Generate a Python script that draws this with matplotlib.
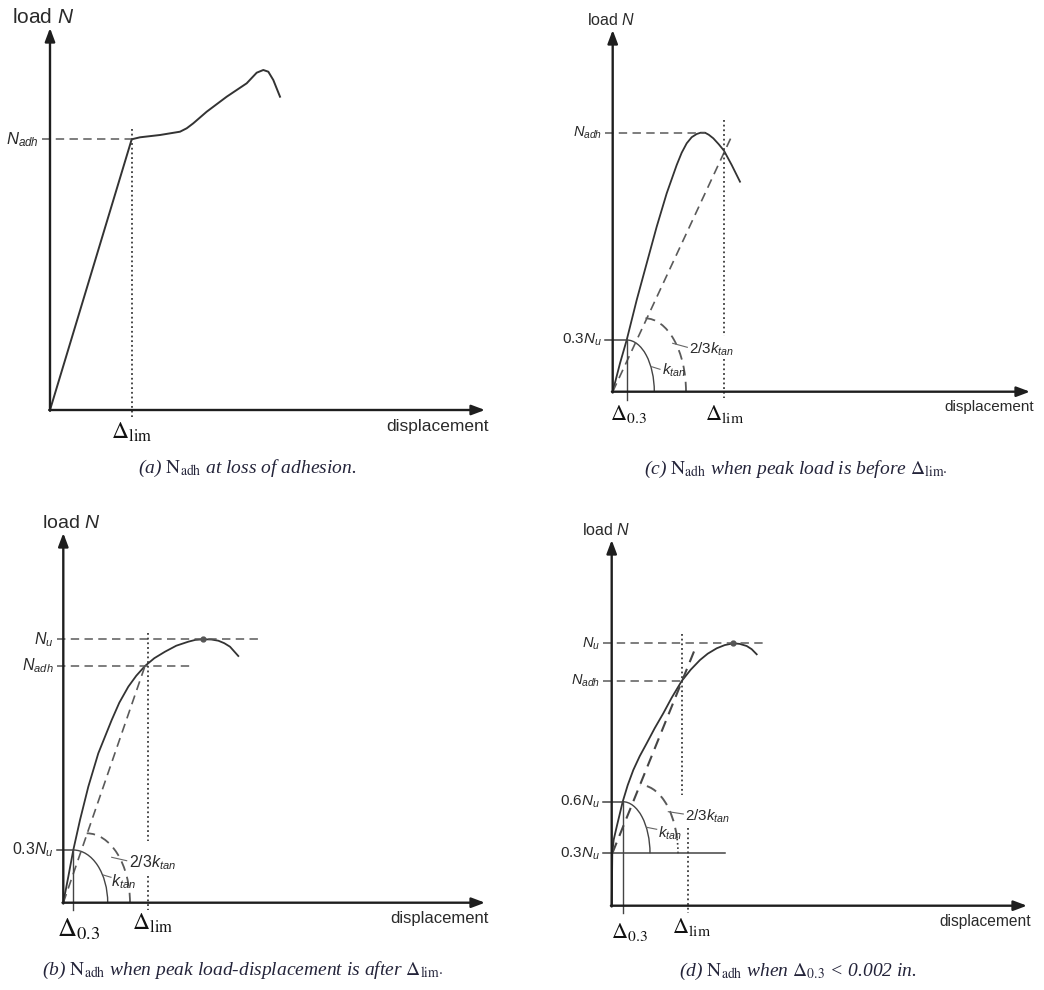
import matplotlib
matplotlib.use("Agg")
import matplotlib.pyplot as plt
from matplotlib.patches import Arc

plt.rcParams['font.family'] = 'Liberation Sans'
plt.rcParams['mathtext.fontset'] = 'custom'
plt.rcParams['mathtext.rm'] = 'Liberation Sans'
plt.rcParams['mathtext.it'] = 'Liberation Sans:italic'
plt.rcParams['mathtext.bf'] = 'Liberation Sans:bold'

W, H = 1044, 990

# --- (a) N_adh at loss of adhesion (units: displacement / load)
a_disp = [0, 81.7, 90, 110, 130, 136.7, 143.3, 156.7, 176.7, 196.7, 206.7, 213.3, 218.3, 223.3, 230]
a_load = [0, 270.7, 272.7, 275, 278.3, 281.7, 286.7, 298.3, 313.3, 326.7, 337.3, 340, 338.3, 330, 313.3]
a_nadh = 270.7
a_dlim = 81.7

# --- (b) peak load-displacement after delta_lim
b_disp = [0, 5, 10, 16.7, 25, 35, 48.4, 56, 65, 73, 81.7, 91, 101.7, 113, 125, 132, 140, 148, 155, 161, 166.7, 175]
b_load = [0, 26, 52.7, 82.7, 116, 149.4, 182.7, 200, 216, 227, 236.7, 244.5, 251, 257, 261, 262.8, 263.4, 263.2, 262, 259.5, 256, 246.7]
b_nu, b_nadh, b_n03 = 263.4, 236.7, 52.7
b_d03, b_dlim = 10, 84.4
b_peak = (140, 263.4)

# --- (c) peak load before delta_lim
c_disp = [0, 7.3, 14, 24, 34, 44, 54, 64, 69, 74, 79, 84, 88, 92.3, 96, 100.6, 106, 111.3, 119, 127.3]
c_load = [0, 28.4, 51.7, 91.7, 128.4, 165, 198.4, 226.7, 239, 248.4, 254.5, 257.7, 259, 259, 257, 253.4, 247.5, 241, 226.7, 210]
c_nadh, c_n03 = 259, 51.7
c_d03, c_dlim = 14, 111.3
c_secant_end = (120, 257.7)

# --- (d) delta_0.3 < 0.002 in.
d_disp = [0, 0.6, 2, 5, 11, 16, 21.6, 28, 35, 43, 51.6, 60, 70, 79, 88.3, 96, 105, 113, 121.6, 128, 135, 140, 145]
d_load = [0, 52.4, 66, 79, 104, 120.5, 135.7, 149.5, 162.4, 177.5, 192.4, 208, 224.7, 236, 245.7, 252, 257.4, 260.6, 262.4, 261.8, 259.7, 256.5, 251.4]
d_nu, d_nadh, d_n06, d_n03 = 262.4, 224.7, 104, 52.4
d_d03, d_dlim_top, d_dlim_low = 11, 70.6, 76
d_secant = ([0.6, 82.6], [52.4, 255])
d_peak = (121.6, 262.4)

captions = [
    r"(a) $\mathrm{N}_{\mathrm{adh}}$ at loss of adhesion.",
    r"(b) $\mathrm{N}_{\mathrm{adh}}$ when peak load-displacement is after $\Delta_{\mathrm{lim}{\cdot}}$",
    r"(c) $\mathrm{N}_{\mathrm{adh}}$ when peak load is before $\Delta_{\mathrm{lim}{\cdot}}$",
    r"(d) $\mathrm{N}_{\mathrm{adh}}$ when $\Delta_{\mathit{0.3}}$ < 0.002 in.",
]

AX_C = '#1e1e1e'
CURVE_C = '#333333'
DASH_C = '#5a5a5a'
DOT_C = '#3a3a3a'
TXT_C = '#2a2a2a'
CAP_C = '#24243a'
DASH = (0, (5.5, 3.5))
DOT = (0, (1.0, 1.6))

fig = plt.figure(figsize=(W / 100, H / 100), dpi=100)
fig.patch.set_facecolor('white')


def panel(box, origin):
    x0, y0, w, h = box
    ox, oy = origin
    ax = fig.add_axes([x0 / W, 1 - (y0 + h) / H, w / W, h / H])
    ax.set_xlim(x0 - ox, x0 + w - ox)
    ax.set_ylim(oy - (y0 + h), oy - y0)
    ax.set_axis_off()
    return ax


def frame(ax, xend, yend, load_size, disp_size, load_x, disp_y):
    kw = dict(arrowstyle='-|>,head_length=0.8,head_width=0.3', color=AX_C,
              lw=1.7, mutation_scale=10, shrinkA=0, shrinkB=0)
    ax.annotate('', xy=(0, yend), xytext=(0, -0.8), arrowprops=kw)
    ax.annotate('', xy=(xend, 0), xytext=(-0.8, 0), arrowprops=kw)
    ax.text(load_x, yend + 5, r"load $N$", fontsize=load_size, color=TXT_C,
            ha='left', va='baseline')
    ax.text(xend + 4, disp_y, "displacement", fontsize=disp_size, color=TXT_C,
            ha='right', va='center')


def level(ax, y, x1, label, size, style='dashed', x0=-8):
    ls = DASH if style == 'dashed' else '-'
    c = DASH_C if style == 'dashed' else '#444444'
    ax.plot([x0, x1], [y, y], color=c, lw=1.1, linestyle=ls)
    ax.text(x0 - 3, y, label, fontsize=size, color=TXT_C, ha='right', va='center')


def dotted(ax, x, y0, y1):
    ax.plot([x, x], [y0, y1], color=DOT_C, lw=1.3, linestyle=DOT)


def delta(ax, x, y, sub, size):
    ax.text(x, y, r"$\Delta_{\mathrm{%s}}$" % sub, fontsize=size, color='#111111',
            ha='center', va='center', math_fontfamily='stix')


def caption(ax, x, y, txt):
    ax.text(x, y, txt, fontsize=14, color=CAP_C, ha='center', va='center',
            family='Liberation Serif', style='italic', math_fontfamily='stix')


def ktan_marks(ax, solid, dashed, lab_big, lab_small, size, dash_split=None):
    (cx, cy, a, b) = solid
    ax.add_patch(Arc((cx, cy), 2 * a, 2 * b, theta1=0, theta2=90, color='#444444', lw=1.0))
    (cx, cy, a, b) = dashed
    if dash_split is None:
        ax.add_patch(Arc((cx, cy), 2 * a, 2 * b, theta1=0, theta2=90, color=DASH_C,
                         lw=1.3, linestyle=DASH))
    else:
        ax.add_patch(Arc((cx, cy), 2 * a, 2 * b, theta1=dash_split, theta2=90,
                         color=DASH_C, lw=1.4, linestyle=DASH))
        ax.add_patch(Arc((cx, cy), 2 * a, 2 * b, theta1=0, theta2=dash_split,
                         color=DOT_C, lw=1.2, linestyle=DOT))
    (l0, l1, pos) = lab_big
    ax.plot([l0[0], l1[0]], [l0[1], l1[1]], color='#666666', lw=0.8)
    ax.text(pos[0], pos[1], r"$2/3k_{tan}$", fontsize=size, color=TXT_C, ha='left', va='center')
    (l0, l1, pos) = lab_small
    ax.plot([l0[0], l1[0]], [l0[1], l1[1]], color='#666666', lw=0.8)
    ax.text(pos[0], pos[1], r"$k_{tan}$", fontsize=size, color=TXT_C, ha='left', va='center')


# ---------------- (a)
ax = panel((0, 0, 520, 490), (50, 410))
frame(ax, 435, 382, 15, 12.5, -38, -16)
ax.plot(a_disp, a_load, color=CURVE_C, lw=1.4)
level(ax, a_nadh, a_dlim, r"$N_{adh}$", 12)
dotted(ax, a_dlim, a_nadh + 10, -7)
delta(ax, a_dlim, -22, 'lim', 17)
caption(ax, 197, -58, captions[0])

# ---------------- (c)
ax = panel((520, 0, 524, 490), (612.7, 391.7))
frame(ax, 417.3, 361.7, 11.5, 11, -25.7, -15.3)
ax.plot(c_disp, c_load, color=CURVE_C, lw=1.3)
ax.plot([0, c_secant_end[0]], [0, c_secant_end[1]], color=DASH_C, lw=1.2, linestyle=DASH)
level(ax, c_nadh, 92.3, r"$N_{adh}$", 10.5)
level(ax, c_n03, c_d03, r"$0.3N_u$", 11, style='solid')
ax.plot([c_d03, c_d03], [c_n03, -8], color='#444444', lw=1.0)
dotted(ax, c_dlim, 271.7, 56)
dotted(ax, c_dlim, 33, -6)
ktan_marks(ax, (c_d03, 0, 27.6, c_n03), (32.3, 0, 41, 73.4),
           ((60, 48.4), (74.6, 44.4), (76.3, 42.7)),
           ((39, 25), (47.3, 22.4), (49, 21)), 11)
delta(ax, c_d03 + 2, -22, '0.3', 16)
delta(ax, c_dlim + 1, -22, 'lim', 16)
caption(ax, 183.3, -77.3, captions[2])

# ---------------- (b)
ax = panel((0, 500, 520, 490), (63.3, 902.7))
frame(ax, 421.7, 369.7, 14, 12, -21.3, -15.3)
ax.plot(b_disp, b_load, color=CURVE_C, lw=1.3)
ax.plot([0, 81.7], [0, b_nadh], color=DASH_C, lw=1.2, linestyle=DASH)
ax.plot(*b_peak, marker='o', ms=3.5, color='#555555')
level(ax, b_nu, 199.7, r"$N_u$", 11.5, x0=-6.3)
level(ax, b_nadh, 126.7, r"$N_{adh}$", 11.5, x0=-6.3)
level(ax, b_n03, b_d03, r"$0.3N_u$", 11.5, style='solid', x0=-6.3)
ax.plot([b_d03, b_d03], [b_n03, -7], color='#444444', lw=1.0)
dotted(ax, b_dlim, 269.4, 62)
dotted(ax, b_dlim, 27, -7)
ktan_marks(ax, (b_d03, 0, 34.4, b_n03), (23.4, 0, 43.3, 69.4),
           ((48.4, 45.4), (63.4, 42), (65.7, 40.4)),
           ((40, 27.7), (47.7, 25.4), (47.7, 21)), 11.5)
delta(ax, b_d03 + 5, -26, '0.3', 19)
delta(ax, b_dlim + 5, -21, 'lim', 17)
caption(ax, 179.7, -67.3, captions[1])

# ---------------- (d)
ax = panel((520, 500, 524, 490), (611.7, 905.7))
frame(ax, 415.3, 365.7, 11.5, 11.2, -29.7, -16)
ax.plot(d_disp, d_load, color=CURVE_C, lw=1.3)
ax.plot(d_secant[0], d_secant[1], color='#454545', lw=1.5, linestyle=DASH)
ax.plot(*d_peak, marker='o', ms=3.5, color='#555555')
level(ax, d_nu, 153.3, r"$N_u$", 10.5, x0=-8.7)
level(ax, d_nadh, 71.3, r"$N_{adh}$", 10.5, x0=-8.7)
level(ax, d_n06, d_d03, r"$0.6N_u$", 11, style='solid', x0=-8.7)
level(ax, d_n03, 113.3, r"$0.3N_u$", 11, style='solid', x0=-8.7)
ax.plot([d_d03, d_d03], [d_n06, -7], color='#444444', lw=1.0)
dotted(ax, d_dlim_top, 272, 110.7)
dotted(ax, d_dlim_low, 77.7, -7)
ktan_marks(ax, (d_d03, d_n03, 27.3, d_n06 - d_n03), (28.3, d_n03, 38, 68.3),
           ((56.6, 94), (71.6, 91.7), (73.3, 89)),
           ((35, 78.4), (45, 76.4), (46.3, 72.7)), 11, dash_split=22)
delta(ax, d_d03 + 7, -26, '0.3', 16)
delta(ax, d_dlim_low + 4, -21, 'lim', 16)
caption(ax, 185.8, -66, captions[3])

fig.savefig('out.png', dpi=100, facecolor='white')
